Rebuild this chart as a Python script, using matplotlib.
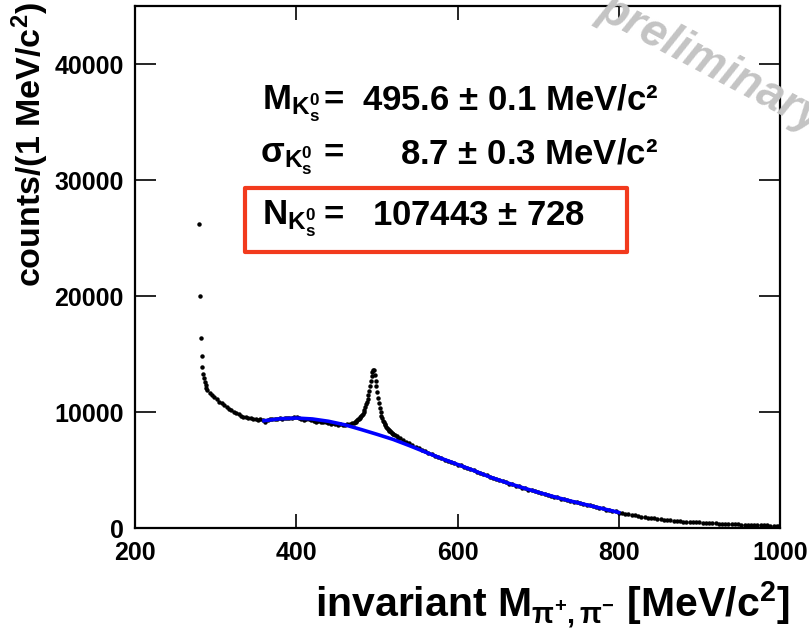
import matplotlib
matplotlib.use('Agg')

import matplotlib.pyplot as plt
from matplotlib.patches import Rectangle

plt.rcParams['font.family'] = ['Liberation Sans', 'DejaVu Sans']
plt.rcParams['font.weight'] = 'bold'
plt.rcParams['mathtext.fontset'] = 'custom'
plt.rcParams['mathtext.rm'] = 'Liberation Sans'
plt.rcParams['mathtext.it'] = 'Liberation Sans:italic'
plt.rcParams['mathtext.bf'] = 'Liberation Sans:bold'

# measured invariant mass spectrum (bin centre in MeV/c^2, counts)
mass_thr = [279.5, 280.5, 281.5, 282.5, 283.5, 284.5, 285.5, 286.5, 287.5, 288.5, 289.5]
counts_thr = [26200, 20000, 16400, 14850, 13900, 13300, 12900, 12600, 12300, 12050, 11900]

mass_low = [292.5, 295.5, 298.5, 301.5, 304.5, 307.5, 310.5, 313.5, 316.5, 319.5,
            322.5, 325.5, 328.5, 331.5, 334.5, 337.5, 340.5, 343.5, 346.5, 349.5,
            352.5, 355.5, 358.5, 361.5, 364.5, 367.5, 370.5, 373.5, 376.5, 379.5,
            382.5, 385.5, 388.5, 391.5, 394.5, 397.5, 400.5, 403.5, 406.5, 409.5,
            412.5, 415.5, 418.5, 421.5, 424.5, 427.5, 430.5, 433.5, 436.5, 439.5,
            442.5, 445.5, 448.5, 451.5, 454.5, 457.5, 460.5, 463.5, 466.5, 469.5]
counts_low = [11650, 11450, 11280, 11120, 10900, 10760, 10580, 10470, 10290, 10160,
              10010, 9890, 9810, 9690, 9610, 9540, 9490, 9440, 9410, 9370,
              9350, 9370, 9290, 9150, 9310, 9370, 9410, 9400, 9390, 9440,
              9420, 9480, 9510, 9460, 9510, 9570, 9610, 9500, 9410, 9330,
              9360, 9380, 9290, 9260, 9140, 9210, 9110, 9100, 9140, 9040,
              8950, 9010, 8940, 8900, 8960, 8840, 8900, 8930, 8980, 9010]

mass_peak = [471.5, 472.5, 473.5, 474.5, 475.5, 476.5, 477.5, 478.5, 479.5, 480.5,
             481.5, 482.5, 483.5, 484.5, 485.5, 486.5, 487.5, 488.5, 489.5, 490.5,
             491.5, 492.5, 493.5, 494.5, 495.5, 496.5, 497.5, 498.5, 499.5, 500.5,
             501.5, 502.5, 503.5, 504.5, 505.5, 506.5, 507.5, 508.5, 509.5, 510.5,
             511.5, 512.5, 513.5, 514.5, 515.5, 516.5, 517.5, 518.5, 519.5, 520.5,
             522.5, 524.5, 526.5, 528.5]
counts_peak = [9040, 9110, 9150, 9230, 9280, 9360, 9390, 9490, 9550, 9650,
               9720, 9860, 10000, 10160, 10390, 10650, 10870, 11160, 11440, 11820,
               12200, 12690, 13110, 13450, 13660, 13580, 13210, 12700, 12240, 11760,
               11190, 10760, 10340, 10010, 9690, 9460, 9240, 9110, 8940, 8860,
               8740, 8660, 8550, 8490, 8390, 8340, 8250, 8210, 8140, 8100,
               8000, 7910, 7790, 7720]

mass_tail = [532, 536, 540, 544, 548, 552, 556, 560, 564, 568, 572, 576, 580, 584, 588,
             592, 596, 600, 604, 608, 612, 616, 620, 624, 628, 632, 636, 640, 644, 648,
             652, 656, 660, 664, 668, 672, 676, 680, 684, 688, 692, 696, 700, 704, 708,
             712, 716, 720, 724, 728, 732, 736, 740, 744, 748, 752, 756, 760, 764, 768,
             772, 776, 780, 784, 788, 792, 796, 800, 804, 808, 812, 816, 820, 824, 828,
             832, 836, 840, 844, 848, 852, 856, 860, 864, 868, 872, 876, 880, 884, 888,
             892, 896, 900, 904, 908, 912, 916, 920, 924, 928, 932, 936, 940, 944, 948,
             952, 956, 960, 964, 968, 972, 976, 980, 984, 988, 992, 996, 999]
counts_tail = [7580, 7410, 7290, 7140, 7020, 6870, 6760, 6600, 6500, 6340, 6250, 6100, 6020, 5890, 5810,
               5680, 5600, 5470, 5400, 5260, 5180, 5050, 4990, 4860, 4760, 4630, 4530, 4390, 4320, 4200,
               4130, 4010, 3950, 3830, 3770, 3650, 3600, 3480, 3430, 3310, 3260, 3150, 3100, 2990, 2940,
               2830, 2790, 2680, 2640, 2540, 2490, 2390, 2350, 2260, 2210, 2120, 2090, 1990, 1950, 1860,
               1820, 1730, 1690, 1590, 1550, 1460, 1430, 1330, 1300, 1230, 1190, 1110, 1080, 1010, 980,
               920, 900, 840, 820, 770, 750, 700, 690, 650, 640, 600, 590, 560, 550, 520,
               510, 480, 475, 450, 445, 420, 415, 390, 385, 365, 360, 340, 335, 315, 312,
               295, 292, 275, 272, 258, 250, 240, 230, 220, 206, 196, 186, 176]

# background fit (blue)
mass_bkg = [360, 380, 400, 420, 440, 460, 480, 500, 520, 540, 560, 580,
            600, 620, 640, 660, 680, 700, 720, 740, 760, 780, 800]
counts_bkg = [9250, 9420, 9480, 9400, 9200, 8900, 8500, 8080, 7640, 7110, 6550, 6000,
              5480, 4960, 4400, 3930, 3490, 3080, 2690, 2330, 2000, 1670, 1340]

mass = mass_thr + mass_low + mass_peak + mass_tail
counts = counts_thr + counts_low + counts_peak + counts_tail

W, H = 809, 634


def fx(px):
    return px / W


def fy(py):
    return 1 - py / H


fig = plt.figure(figsize=(W / 100, H / 100), dpi=100)
ax = fig.add_axes([fx(135), fy(528), fx(780) - fx(135), fy(6) - fy(528)])

ax.plot(mass, counts, ls='none', marker='o', ms=2.2, color='black', zorder=2)
ax.plot(mass_bkg, counts_bkg, color='#0000ff', lw=2.6, zorder=3)

ax.set_xlim(200, 1000)
ax.set_ylim(0, 45000)
ax.set_xticks([200, 400, 600, 800, 1000])
ax.set_yticks([0, 10000, 20000, 30000, 40000])
ax.tick_params(axis='x', direction='in', length=10, width=1.2, top=True,
               labelsize=18, pad=9)
ax.tick_params(axis='y', direction='in', length=15, width=1.2, right=True,
               labelsize=18, pad=8)
for s in ax.spines.values():
    s.set_linewidth(1.6)

fig.text(fx(790), fy(617), r"invariant M$_{\mathrm{π^{+},π^{-}}}$ [MeV/c$^{\mathbf{2}}$]",
         fontsize=29.5, ha='right', va='baseline')
fig.text(fx(30), fy(145), r"counts/(1 MeV/c$^{\mathbf{2}}$)", fontsize=24.5,
         rotation=90, ha='center', va='center')

# fit results
fs = 25
lab_k = r"$_{\mathrm{K}^{0}_{\mathrm{s}}}$"
fig.text(fx(262), fy(110), "M" + lab_k, fontsize=fs, va='baseline')
fig.text(fx(260), fy(163), r"$\mathrm{σ}$" + lab_k, fontsize=fs, va='baseline')
fig.text(fx(262), fy(225), "N" + lab_k, fontsize=fs, va='baseline')
for py in (110, 163, 225):
    fig.text(fx(334), fy(py), "=", fontsize=fs, ha='center', va='baseline')
fig.text(fx(362), fy(110), r"495.6 $\mathrm{\pm}$ 0.1 MeV/c²", fontsize=fs, va='baseline')
fig.text(fx(400), fy(163), r"8.7 $\mathrm{\pm}$ 0.3 MeV/c²", fontsize=fs, va='baseline')
fig.text(fx(372), fy(225), r"107443 $\mathrm{\pm}$ 728", fontsize=fs, va='baseline')

fig.patches.append(Rectangle((fx(245), fy(252)), fx(627) - fx(245), fy(188) - fy(252),
                             transform=fig.transFigure, fill=False,
                             edgecolor='#f23a1d', lw=3, joinstyle='round'))

fig.text(fx(596), fy(16), "preliminary", fontsize=33, style='italic',
         color='#c4c4c4', rotation=-28, rotation_mode='anchor',
         ha='left', va='baseline', zorder=10)

fig.savefig('out.png', dpi=100)
